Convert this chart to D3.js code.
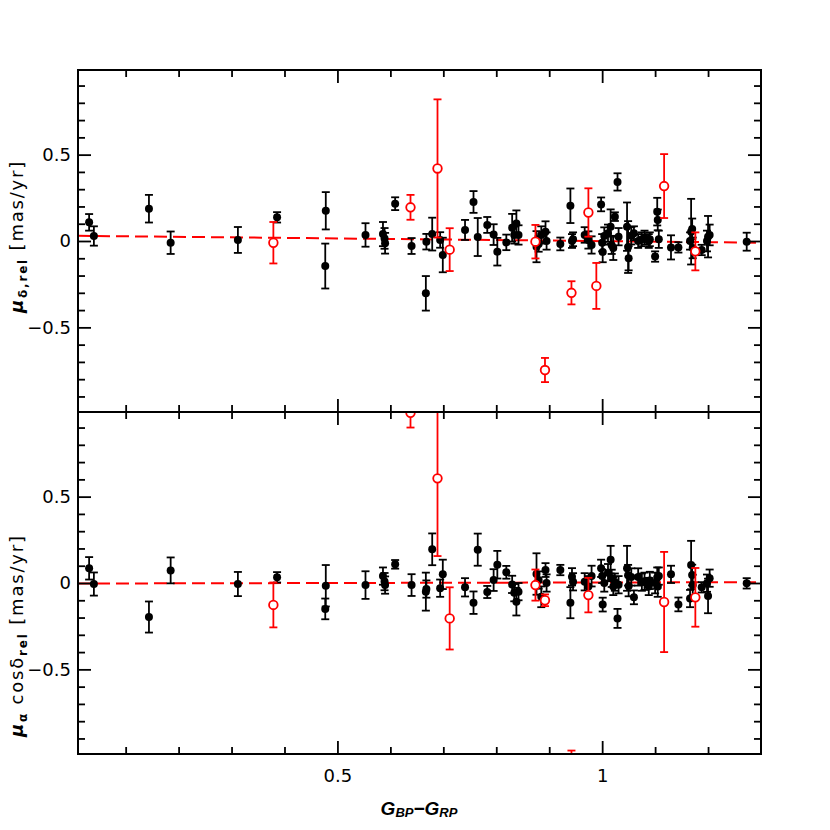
<!DOCTYPE html>
<html><head><meta charset="utf-8">
<script src="https://cdn.jsdelivr.net/npm/d3@7"></script>
<style>body{margin:0;background:#fff}</style>
</head><body>
<svg id="c" width="830" height="830"></svg>
<script>
// ---- data ----
const bpRp     = [0.031,0.040,0.144,0.185,0.312,0.379,0.386,0.477,0.478,0.553,0.586,0.589,0.590,0.609,0.638,0.640,0.667,0.668,0.679,0.689,0.694,0.699,0.712,0.741,0.757,0.765,0.783,0.795,0.802,0.819,0.830,0.834,0.838,0.842,0.874,0.876,0.880,0.885,0.892,0.893,0.895,0.921,0.940,0.942,0.943,0.945,0.967,0.974,0.974,0.980,0.989,0.998,1.000,1.001,1.004,1.011,1.016,1.018,1.021,1.024,1.029,1.031,1.047,1.049,1.050,1.055,1.060,1.068,1.075,1.080,1.088,1.090,1.100,1.104,1.105,1.107,1.117,1.130,1.144,1.166,1.168,1.170,1.171,1.176,1.188,1.198,1.200,1.203,1.273];
const pmDec    = [0.108,0.029,0.187,-0.010,0.006,-0.010,0.137,-0.145,0.175,0.035,0.040,0.015,-0.013,0.216,0.195,-0.029,-0.303,-0.004,0.040,0.420,0.006,-0.081,-0.050,0.064,0.226,0.023,0.093,0.037,-0.062,-0.008,0.077,0.035,0.102,0.035,-0.004,-0.033,-0.017,0.035,-0.747,0.054,0.000,-0.017,0.204,-0.300,0.000,0.010,0.035,0.165,0.006,-0.023,-0.260,0.212,-0.010,-0.063,0.029,0.045,0.083,-0.025,-0.040,0.141,0.342,0.025,0.083,-0.035,-0.100,0.030,0.045,0.000,0.010,0.020,0.000,0.010,-0.090,0.170,0.122,0.010,0.318,-0.037,-0.037,0.000,0.054,0.070,-0.040,-0.060,-0.052,0.000,0.025,0.035,-0.004];
const pmDecErr = [0.048,0.056,0.080,0.065,0.075,0.120,0.030,0.130,0.108,0.068,0.070,0.060,0.060,0.037,0.072,0.046,0.100,0.045,0.095,0.400,0.045,0.100,0.124,0.058,0.063,0.110,0.046,0.060,0.080,0.045,0.080,0.050,0.075,0.056,0.097,0.090,0.045,0.050,0.070,0.060,0.050,0.037,0.100,0.067,0.040,0.040,0.045,0.140,0.050,0.050,0.133,0.040,0.050,0.060,0.050,0.050,0.100,0.050,0.070,0.025,0.050,0.050,0.140,0.150,0.070,0.050,0.040,0.040,0.040,0.040,0.040,0.040,0.030,0.080,0.060,0.050,0.185,0.070,0.030,0.050,0.190,0.060,0.060,0.110,0.030,0.060,0.120,0.060,0.052];
const pmRa     = [0.085,-0.006,-0.197,0.073,-0.006,-0.127,0.033,-0.150,-0.016,-0.012,0.040,0.008,-0.012,0.108,0.985,-0.012,-0.050,-0.035,0.195,0.606,-0.030,0.050,-0.205,-0.025,-0.114,0.193,-0.052,0.017,0.106,0.062,-0.008,-0.056,-0.108,-0.050,-0.012,0.052,0.017,-0.080,-0.100,0.075,0.000,0.075,-0.114,-1.100,0.036,0.007,0.007,-0.070,-0.020,0.040,-1.300,0.085,0.040,-0.125,0.000,0.060,0.135,0.027,-0.020,0.005,-0.205,-0.010,0.085,0.045,-0.017,0.035,-0.083,0.035,0.005,0.010,-0.020,0.015,0.000,0.030,-0.020,0.040,-0.110,0.050,-0.124,-0.090,0.104,0.046,-0.012,-0.083,-0.025,-0.001,-0.075,0.028,-0.002];
const pmRaErr  = [0.065,0.067,0.090,0.075,0.070,0.130,0.030,0.060,0.120,0.080,0.050,0.050,0.050,0.025,0.085,0.063,0.110,0.050,0.092,0.450,0.050,0.085,0.180,0.053,0.065,0.093,0.035,0.063,0.080,0.037,0.050,0.050,0.080,0.050,0.090,0.120,0.050,0.060,0.034,0.040,0.050,0.030,0.090,0.130,0.050,0.050,0.050,0.100,0.060,0.060,0.100,0.050,0.040,0.040,0.050,0.050,0.080,0.050,0.050,0.050,0.055,0.050,0.130,0.060,0.060,0.050,0.040,0.050,0.050,0.050,0.050,0.050,0.060,0.060,0.060,0.050,0.290,0.050,0.040,0.050,0.140,0.060,0.060,0.170,0.030,0.050,0.100,0.050,0.030];
const rejected = [0,0,0,0,0,1,0,0,0,0,0,0,0,0,1,0,0,0,0,1,0,0,1,0,0,0,0,0,0,0,0,0,0,0,1,0,0,0,1,0,0,0,0,1,0,0,0,1,0,0,1,0,0,0,0,0,0,0,0,0,0,0,0,0,0,0,0,0,0,0,0,0,0,0,0,0,1,0,0,0,0,0,0,1,0,0,0,0,0];

const fitX   = [0.01, 1.30];
const fitDec = [0.030, -0.010];
const fitRa  = [-0.003, 0.005];

const xMajor = [0.5, 1.0];
const xMajorLabels = ["0.5", "1"];
const xMinor = [0.1,0.2,0.3,0.4,0.6,0.7,0.8,0.9,1.1,1.2];
const yMajor = [-0.5, 0, 0.5];
const yMajorLabels = ["\u22120.5", "0", "0.5"];
const yMinor = [-0.9,-0.8,-0.7,-0.6,-0.4,-0.3,-0.2,-0.1,0.1,0.2,0.3,0.4,0.6,0.7,0.8,0.9];

// ---- drawing ----
const svg = d3.select('#c');
svg.append('rect').attr('width',830).attr('height',830).attr('fill','#fff');

const x = d3.scaleLinear().domain([0.01, 1.30]).range([78, 761]);
const yTop = d3.scaleLinear().domain([-0.99, 0.99]).range([412, 70]);
const yBot = d3.scaleLinear().domain([-0.99, 0.99]).range([754, 412]);

const stars = bpRp.map((c,i)=>({c, dec:pmDec[i], decE:pmDecErr[i], ra:pmRa[i], raE:pmRaErr[i], rej:rejected[i]}));
const ordered = stars.filter(s=>!s.rej).concat(stars.filter(s=>s.rej));

const TICK_FONT = "'DejaVu Sans', sans-serif";

function styleAxis(g){
  g.select('.domain').remove();
  g.selectAll('line').attr('stroke','#000').attr('stroke-width',1.8);
  g.selectAll('text').attr('font-family',TICK_FONT).attr('font-size',18).attr('fill','#000');
}

function panel(y, vKey, eKey, fitY, id, showX){
  const [y0, y1] = y.range(); // bottom, top
  svg.append('clipPath').attr('id',id).append('rect')
     .attr('x',78).attr('y',y1).attr('width',683).attr('height',y0-y1);
  const g = svg.append('g').attr('clip-path',`url(#${id})`);

  g.append('path')
   .datum(fitX.map((v,i)=>[v, fitY[i]]))
   .attr('d', d3.line().x(d=>x(d[0])).y(d=>y(d[1])))
   .attr('fill','none').attr('stroke','#ff0000').attr('stroke-width',2)
   .attr('stroke-dasharray','13,6');

  const pts = g.selectAll('g.pt').data(ordered).join('g').attr('class','pt');
  const col = d=>d.rej ? '#ff0000' : '#000';
  pts.append('line')
     .attr('x1',d=>x(d.c)).attr('x2',d=>x(d.c))
     .attr('y1',d=>y(d[vKey]-d[eKey])).attr('y2',d=>y(d[vKey]+d[eKey]))
     .attr('stroke',col).attr('stroke-width',1.8);
  [-1,1].forEach(s=>{
    pts.append('line')
       .attr('x1',d=>x(d.c)-4).attr('x2',d=>x(d.c)+4)
       .attr('y1',d=>y(d[vKey]+s*d[eKey])).attr('y2',d=>y(d[vKey]+s*d[eKey]))
       .attr('stroke',col).attr('stroke-width',1.8);
  });
  pts.append('circle')
     .attr('cx',d=>x(d.c)).attr('cy',d=>y(d[vKey]))
     .attr('r',d=>d.rej?4.3:4)
     .attr('fill',d=>d.rej?'#fff':'#000')
     .attr('stroke',col).attr('stroke-width',d=>d.rej?1.8:0);

  const ax = svg.append('g');
  ax.append('g').attr('transform',`translate(0,${y0})`)
    .call(d3.axisBottom(x).tickValues(xMajor).tickSize(-13).tickPadding(15)
      .tickFormat((d,i)=> showX ? xMajorLabels[i] : '')).call(styleAxis);
  ax.append('g').attr('transform',`translate(0,${y0})`)
    .call(d3.axisBottom(x).tickValues(xMinor).tickSize(-7).tickFormat('')).call(styleAxis);
  ax.append('g').attr('transform',`translate(0,${y1})`)
    .call(d3.axisTop(x).tickValues(xMajor).tickSize(-13).tickFormat('')).call(styleAxis);
  ax.append('g').attr('transform',`translate(0,${y1})`)
    .call(d3.axisTop(x).tickValues(xMinor).tickSize(-7).tickFormat('')).call(styleAxis);
  ax.append('g').attr('transform',`translate(78,0)`)
    .call(d3.axisLeft(y).tickValues(yMajor).tickSize(-13).tickPadding(7)
      .tickFormat((d,i)=>yMajorLabels[i])).call(styleAxis);
  ax.append('g').attr('transform',`translate(78,0)`)
    .call(d3.axisLeft(y).tickValues(yMinor).tickSize(-7).tickFormat('')).call(styleAxis);
  ax.append('g').attr('transform',`translate(761,0)`)
    .call(d3.axisRight(y).tickValues(yMajor).tickSize(-13).tickFormat('')).call(styleAxis);
  ax.append('g').attr('transform',`translate(761,0)`)
    .call(d3.axisRight(y).tickValues(yMinor).tickSize(-7).tickFormat('')).call(styleAxis);

  svg.append('rect').attr('x',78).attr('y',y1).attr('width',683).attr('height',y0-y1)
     .attr('fill','none').attr('stroke','#000').attr('stroke-width',2);
}

panel(yTop, 'dec', 'decE', fitDec, 'clipTop', false);
panel(yBot, 'ra', 'raE', fitRa, 'clipBot', true);

// y labels
const LAB_FONT = "'DejaVu Sans', sans-serif";
const t1 = svg.append('text')
  .attr('transform','translate(23,313) rotate(-90)')
  .attr('font-family',LAB_FONT).attr('font-size',18).attr('letter-spacing',1.8)
  .attr('text-anchor','start').attr('fill','#000');
t1.append('tspan').attr('font-style','italic').attr('font-weight','bold').text('\u03bc');
t1.append('tspan').attr('font-size',12).attr('font-weight','bold').attr('dy',4).text('\u03b4,rel');
t1.append('tspan').attr('dy',-4).text(' [mas/yr]');

const t2 = svg.append('text')
  .attr('transform','translate(23,737) rotate(-90)')
  .attr('font-family',LAB_FONT).attr('font-size',18).attr('letter-spacing',1.8)
  .attr('text-anchor','start').attr('fill','#000');
t2.append('tspan').attr('font-style','italic').attr('font-weight','bold').text('\u03bc');
t2.append('tspan').attr('font-size',12).attr('font-weight','bold').attr('dy',4).text('\u03b1');
t2.append('tspan').attr('dy',-4).text(' cos\u03b4');
t2.append('tspan').attr('font-size',12).attr('font-weight','bold').attr('dy',4).text('rel');
t2.append('tspan').attr('dy',-4).text(' [mas/yr]');

// x label
const xl = svg.append('text')
  .attr('x',419).attr('y',815)
  .attr('font-family',"'Liberation Sans', Arial, sans-serif").attr('font-style','italic')
  .attr('font-weight','bold').attr('font-size',19)
  .attr('text-anchor','middle').attr('fill','#000');
xl.append('tspan').text('G');
xl.append('tspan').attr('font-size',13).attr('dy',2).text('BP');
xl.append('tspan').attr('dy',-2).text('\u2212G');
xl.append('tspan').attr('font-size',13).attr('dy',2).text('RP');
</script>
</body></html>
